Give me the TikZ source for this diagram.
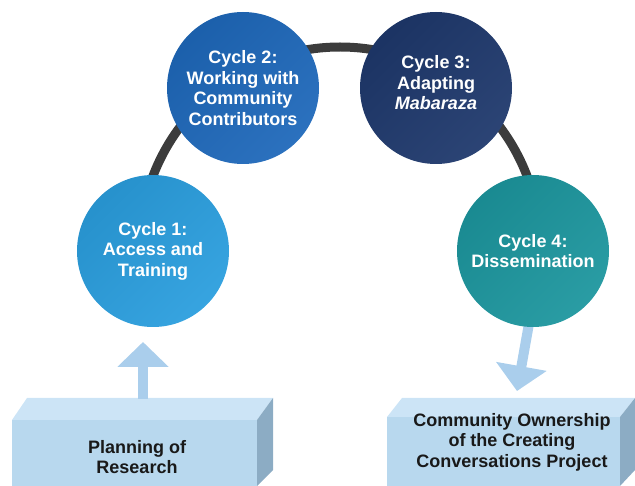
\documentclass[tikz,border=0pt]{standalone}
\usepackage{fontspec}
\setmainfont{Liberation Sans}
\usetikzlibrary{arrows.meta,calc}
\definecolor{cA}{RGB}{42,158,222}
\definecolor{cB}{RGB}{30,104,186}
\definecolor{cC}{RGB}{30,56,108}
\definecolor{cD}{RGB}{28,150,158}
\definecolor{arcgray}{RGB}{60,60,60}
\definecolor{arrowblue}{RGB}{170,206,236}
\definecolor{boxfront}{RGB}{184,216,238}
\definecolor{boxtop}{RGB}{204,228,246}
\definecolor{boxside}{RGB}{140,172,196}
\definecolor{boxtext}{RGB}{25,25,25}
\begin{document}
\begin{tikzpicture}[x=1pt,y=-1pt,
  cyc/.style={circle, minimum size=152pt, inner sep=0pt, text=white,
    font=\bfseries\fontsize{18}{20.5}\selectfont, align=center,
    left color=#1!92!black, right color=#1!94!white, shading angle=45},
  cyctext/.style={text=white, font=\bfseries\fontsize{18}{20.5}\selectfont, align=center, inner sep=0pt},
  boxlabel/.style={text=boxtext, font=\bfseries\fontsize{18}{20.5}\selectfont, align=center, inner sep=0pt},
  face/.style={fill=#1, draw=none},
  bigarrow/.style={draw=arrowblue, line width=10pt, -{Triangle[width=50pt,length=25pt]}},
  ring/.style={draw=arcgray, line width=9pt}
]
\useasboundingbox (0,0) rectangle (635,486);

% backbone arc
\draw[ring] (340,247) ++(180:200) arc[start angle=180, end angle=360, radius=200];

% left box
\coordinate (lfl) at (12,420);
\coordinate (lfr) at (257,420);
\coordinate (lbl) at (27,398);
\coordinate (lbr) at (273,398);
\fill[face=boxtop] (lfl) -- (lbl) -- (lbr) -- (lfr) -- cycle;
\fill[face=boxside] (lfr) -- (lbr) -- (273,470) -- (257,486) -- cycle;
\fill[face=boxfront] (lfl) rectangle (257,486);
\node[boxlabel] (plan) at (137,457) {Planning of\\Research};

% right box
\coordinate (rfl) at (387,417);
\coordinate (rfr) at (620,417);
\coordinate (rbl) at (402,398);
\coordinate (rbr) at (635,398);
\fill[face=boxtop] (rfl) -- (rbl) -- (rbr) -- (rfr) -- cycle;
\fill[face=boxside] (rfr) -- (rbr) -- (635,470) -- (620,486) -- cycle;
\fill[face=boxfront] (rfl) rectangle (620,486);
\node[boxlabel] (own) at (512,442) {Community Ownership\\of the Creating\\Conversations Project};

% arrows
\coordinate (upStart) at (143,399);
\coordinate (upTip) at (143,342);
\draw[bigarrow] (upStart) -- (upTip);
\coordinate (downStart) at (530,318);
\coordinate (downTip) at (517,391);
\draw[bigarrow] (downStart) -- (downTip);

% cycles
\node[cyc=cA] (c1) at (153,251) {Cycle 1:\\Access and\\Training};
\node[cyc=cB] (c2) at (243,88) {Cycle 2:\\Working with\\Community\\Contributors};
\node[cyc=cC] (c3) at (436,88) {};
\node[cyctext] (c3t) at ([yshift=5pt]c3.center) {Cycle 3:\\Adapting\\\textit{Mabaraza}};
\node[cyc=cD] (c4) at (533,251) {Cycle 4:\\Dissemination};
\end{tikzpicture}
\end{document}
